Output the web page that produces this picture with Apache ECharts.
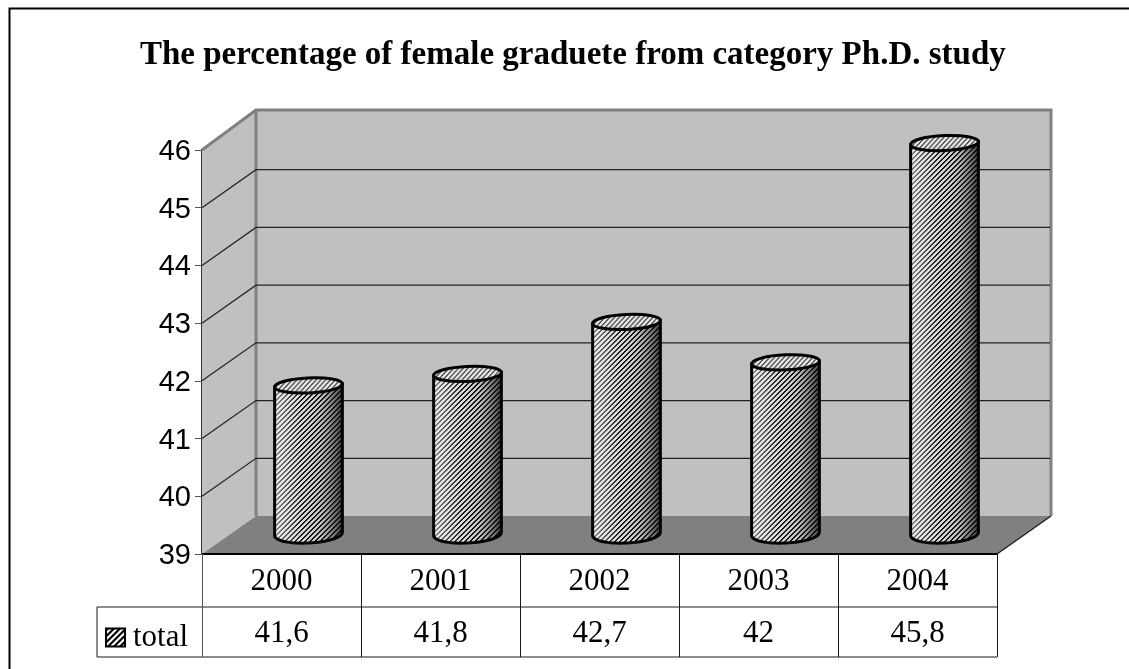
<!DOCTYPE html>
<html>
<head>
<meta charset="utf-8">
<title>Female graduates Ph.D.</title>
<script src="https://cdn.jsdelivr.net/npm/echarts@6/dist/echarts.min.js"></script>
<style>
  html, body { margin: 0; padding: 0; background: #fff; }
  #chart { width: 1129px; height: 669px; }
</style>
</head>
<body>
<div id="chart"></div>
<script>
const years = ['2000', '2001', '2002', '2003', '2004'];
const totals = [41.6, 41.8, 42.7, 42, 45.8];
const totalLabels = ['41,6', '41,8', '42,7', '42', '45,8'];
const gridTicks = [40, 41, 42, 43, 44, 45];

// depth of the fake 3d box, in pixels
const DEPTH_X = 54;
const DEPTH_Y = 38;
const ROW1 = 53;
const ROW2 = 103;
const KEY_LEFT = 97;

// stepped diagonal stripes, drawn pixel by pixel so they stay crisp
function hatch(period, dark, bg, fg) {
  const c = document.createElement('canvas');
  c.width = c.height = period;
  const ctx = c.getContext('2d');
  for (let y = 0; y < period; y++) {
    for (let x = 0; x < period; x++) {
      ctx.fillStyle = (x + y) % period < dark ? fg : bg;
      ctx.fillRect(x, y, 1, 1);
    }
  }
  return { image: c, repeat: 'repeat' };
}

const bodyFill = hatch(5, 2, '#d4d4d4', '#000');
const capFill = hatch(5, 2, '#e8e8e8', '#555');
const keyFill = hatch(6, 3, '#fff', '#000');

function renderBox(params, api) {
  const g = params.coordSys;
  const l = g.x, r = g.x + g.width, t = g.y, b = g.y + g.height;
  const bl = l + DEPTH_X, br = r + DEPTH_X;
  const top = t - DEPTH_Y - 2;
  const wall = '#c0c0c0', floor = '#808080', edge = '#808080';
  return {
    type: 'group',
    children: [
      { type: 'polygon', shape: { points: [[bl, top], [br, top], [br, b - DEPTH_Y], [bl, b - DEPTH_Y]] }, style: { fill: wall } },
      { type: 'polygon', shape: { points: [[l, t], [bl, top], [bl, b - DEPTH_Y], [l, b]] }, style: { fill: wall } },
      { type: 'polygon', shape: { points: [[l, b], [bl, b - DEPTH_Y], [br, b - DEPTH_Y], [r, b]] }, style: { fill: floor } },
      { type: 'polyline', shape: { points: [[l, t], [bl, top], [br, top], [br, b - DEPTH_Y]] }, style: { fill: 'none', stroke: edge, lineWidth: 3 } },
      { type: 'line', shape: { x1: bl, y1: top, x2: bl, y2: b - DEPTH_Y }, style: { stroke: edge, lineWidth: 3 } },
      { type: 'line', shape: { x1: r, y1: b, x2: br, y2: b - DEPTH_Y }, style: { stroke: '#222', lineWidth: 1.5 } }
    ]
  };
}

function renderGridLine(params, api) {
  const g = params.coordSys;
  const y = api.coord([0, api.value(1)])[1];
  const bl = g.x + DEPTH_X;
  return {
    type: 'polyline',
    shape: { points: [[g.x, y], [bl, y - DEPTH_Y], [g.x + g.width + DEPTH_X - 1, y - DEPTH_Y]] },
    style: { fill: 'none', stroke: '#222', lineWidth: 1.2 }
  };
}

// body outline: straight sides and the lower half of the base ellipse
function bodyPoints(cx, top, base, rx, ry, tilt) {
  const pts = [[cx - rx, top + tilt]];
  for (let i = 0; i <= 32; i++) {
    const a = Math.PI - (Math.PI * i) / 32;
    const px = Math.cos(a) * rx;
    pts.push([cx + px, base + Math.sin(a) * ry - (px / rx) * tilt]);
  }
  pts.push([cx + rx, top - tilt]);
  return pts;
}

function renderCylinder(params, api) {
  const pos = api.coord([api.value(0), api.value(1)]);
  const foot = api.coord([api.value(0), 39]);
  const rx = api.size([1, 0])[0] * 0.213;
  const cx = pos[0] + 27;
  const top = pos[1] - 18.5;
  const base = foot[1] - 20;
  const pts = bodyPoints(cx, top, base, rx, 9, 1.6);
  const shade = {
    type: 'linear', x: 0, y: 0, x2: 1, y2: 0,
    colorStops: [
      { offset: 0, color: 'rgba(255,255,255,0.55)' },
      { offset: 0.4, color: 'rgba(255,255,255,0.1)' },
      { offset: 0.65, color: 'rgba(90,90,90,0.15)' },
      { offset: 1, color: 'rgba(0,0,0,0.78)' }
    ]
  };
  return {
    type: 'group',
    children: [
      { type: 'polygon', shape: { points: pts }, style: { fill: bodyFill } },
      { type: 'polygon', shape: { points: pts }, style: { fill: shade, stroke: '#000', lineWidth: 3 } },
      {
        type: 'ellipse',
        shape: { cx: cx, cy: top, rx: rx, ry: 7.5 },
        rotation: 0.045,
        originX: cx,
        originY: top,
        style: { fill: capFill, stroke: '#000', lineWidth: 3 }
      }
    ]
  };
}

function renderTable(params, api) {
  const g = params.coordSys;
  const b = g.y + g.height, r = g.x + g.width;
  const black = '#1a1a1a';
  const kids = [
    { type: 'line', shape: { x1: g.x, y1: b, x2: r, y2: b }, style: { stroke: '#000', lineWidth: 2 } },
    { type: 'line', shape: { x1: KEY_LEFT, y1: b + ROW1, x2: r, y2: b + ROW1 }, style: { stroke: black, lineWidth: 1 } },
    { type: 'line', shape: { x1: KEY_LEFT, y1: b + ROW2, x2: r, y2: b + ROW2 }, style: { stroke: black, lineWidth: 1 } },
    { type: 'line', shape: { x1: KEY_LEFT, y1: b + ROW1, x2: KEY_LEFT, y2: b + ROW2 }, style: { stroke: black, lineWidth: 1 } }
  ];
  for (let i = 0; i <= years.length; i++) {
    const x = Math.round(g.x + (g.width * i) / years.length) + 0.5;
    kids.push({ type: 'line', shape: { x1: x, y1: b, x2: x, y2: b + ROW2 }, style: { stroke: i === 0 ? '#555' : black, lineWidth: 1 } });
  }
  return { type: 'group', children: kids };
}

const chart = echarts.init(document.getElementById('chart'), null, { renderer: 'canvas' });

const serif = '"Liberation Serif", "Times New Roman", serif';

chart.setOption({
  animation: false,
  backgroundColor: '#fff',
  title: {
    text: 'The percentage of female graduete from category Ph.D. study',
    left: 135,
    top: 34,
    textStyle: { fontFamily: serif, fontWeight: 'bold', fontSize: 33, color: '#000' }
  },
  legend: {
    left: 105,
    top: 622,
    padding: 0,
    selectedMode: false,
    itemWidth: 19,
    itemHeight: 18,
    itemGap: 0,
    data: [{
      name: 'total',
      icon: 'rect',
      itemStyle: { color: keyFill, borderColor: '#000', borderWidth: 2 }
    }],
    textStyle: { fontFamily: serif, fontSize: 31, color: '#000', padding: [2, 0, 0, 3] }
  },
  grid: { left: 202, top: 150, width: 795, height: 404 },
  xAxis: {
    type: 'category',
    data: years,
    axisLine: { show: false },
    axisTick: { show: false },
    axisLabel: {
      margin: 1,
      interval: 0,
      formatter: (v, i) => `{y|${v}}\n{t|${totalLabels[i]}}`,
      rich: {
        y: { fontFamily: serif, fontSize: 31, color: '#000', height: 54, lineHeight: 54, align: 'center' },
        t: { fontFamily: serif, fontSize: 31, color: '#000', height: 50, lineHeight: 50, align: 'center' }
      }
    }
  },
  yAxis: {
    type: 'value',
    min: 39,
    max: 46,
    interval: 1,
    axisLine: { show: true, lineStyle: { color: '#333', width: 2 } },
    axisTick: { show: true, length: 7, lineStyle: { color: '#555', width: 1 } },
    axisLabel: {
      margin: 11,
      formatter: '{n|{value}}',
      rich: {
        n: { fontFamily: '"Liberation Sans", Arial, sans-serif', fontSize: 29, color: '#000', padding: [4, 0, 0, 0] }
      }
    },
    splitLine: { show: false }
  },
  series: [
    { type: 'custom', name: 'box', data: [[0, 39]], renderItem: renderBox, silent: true, z: 1 },
    { type: 'custom', name: 'grid', data: gridTicks.map(t => [0, t]), renderItem: renderGridLine, silent: true, z: 2 },
    { type: 'custom', name: 'table', data: [[0, 39]], renderItem: renderTable, silent: true, z: 3 },
    { type: 'custom', name: 'total', data: totals.map((v, i) => [i, v]), renderItem: renderCylinder, clip: false, z: 4 }
  ],
  graphic: [{
    type: 'polyline',
    z: 0,
    shape: { points: [[9.5, 669], [9.5, 8.5], [1129, 8.5]] },
    style: { fill: 'none', stroke: '#000', lineWidth: 2 }
  }]
});
</script>
</body>
</html>
